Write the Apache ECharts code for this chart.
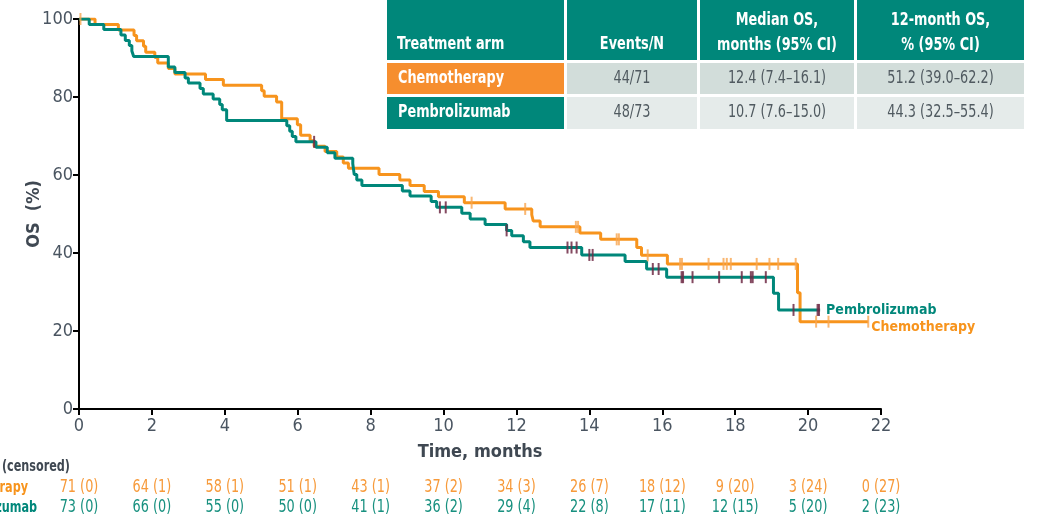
<!DOCTYPE html>
<html>
<head>
<meta charset="utf-8">
<script src="https://cdn.jsdelivr.net/npm/echarts@6/dist/echarts.min.js"></script>
<style>
html,body{margin:0;padding:0;background:#fff;}
#chart{width:1040px;height:518px;}
</style>
</head>
<body>
<div id="chart"></div>
<script>
// ---------------- DATA ----------------
var xTicks = [0, 2, 4, 6, 8, 10, 12, 14, 16, 18, 20, 22];
var yTicks = [0, 20, 40, 60, 80, 100];

// Kaplan–Meier steps: [time (months), OS % after the step]
var chemoCurve = [[0,100],[0.44,98.6],[1.08,97.2],[1.51,95.8],[1.58,94.4],[1.77,93.0],[1.83,91.5],[2.08,90.1],[2.16,88.7],[2.45,87.3],[2.63,85.9],[3.47,84.5],[3.96,83.0],[5.01,81.6],[5.08,80.2],[5.42,78.7],[5.56,74.4],[5.99,72.9],[6.08,70.2],[6.34,68.8],[6.45,67.4],[6.75,66.0],[7.07,64.6],[7.25,63.1],[7.39,61.7],[8.23,60.1],[8.80,58.7],[9.08,57.3],[9.47,55.8],[9.86,54.4],[10.57,52.9],[11.69,51.3],[12.42,49.8],[12.46,48.2],[12.65,46.7],[13.74,45.1],[14.31,43.5],[15.30,41.4],[15.43,39.4],[16.14,37.2],[19.71,29.8],[19.78,22.4],[21.65,22.4]];
var pembroCurve = [[0,100],[0.28,98.6],[0.68,97.3],[1.15,95.9],[1.27,94.5],[1.38,93.2],[1.45,91.8],[1.50,90.4],[2.45,87.7],[2.63,86.3],[2.91,84.9],[3.00,83.6],[3.32,82.2],[3.41,80.8],[3.68,79.5],[3.86,78.1],[3.93,76.7],[4.05,74.0],[5.70,72.6],[5.78,71.2],[5.85,69.9],[5.95,68.5],[6.50,67.1],[6.81,65.7],[7.02,64.3],[7.51,62.9],[7.55,60.1],[7.62,58.7],[7.76,57.3],[8.87,55.9],[9.08,54.6],[9.66,53.2],[9.81,51.7],[10.50,50.2],[10.73,48.7],[11.14,47.3],[11.73,45.8],[11.87,44.4],[12.19,42.9],[12.37,41.4],[13.79,39.5],[14.98,37.8],[15.57,35.9],[16.12,33.8],[19.05,29.7],[19.19,25.4],[20.33,25.4]];

// censoring times (months)
var chemoCensor = [0.04,10.77,12.24,13.63,13.69,14.75,14.81,15.60,16.49,16.54,17.27,17.68,17.77,17.88,18.59,18.94,19.18,19.66,20.22,20.56,21.65];
var pembroCensor = [6.45,9.90,10.06,11.73,13.40,13.51,13.65,14.00,14.09,15.74,15.90,16.53,16.57,16.83,17.56,18.18,18.43,18.48,18.84,19.60,20.26,20.30];

// numbers at risk (censored)
var chemoRisk = ['71 (0)','64 (1)','58 (1)','51 (1)','43 (1)','37 (2)','34 (3)','26 (7)','18 (12)','9 (20)','3 (24)','0 (27)'];
var pembroRisk = ['73 (0)','66 (0)','55 (0)','50 (0)','41 (1)','36 (2)','29 (4)','22 (8)','17 (11)','12 (15)','5 (20)','2 (23)'];

var armNames = ['Chemotherapy', 'Pembrolizumab'];
var riskTitle = 'No. at risk (censored)';

// summary table
var tableHeader = ['Treatment arm', 'Events/N', 'Median OS,\nmonths (95% CI)', '12-month OS,\n% (95% CI)'];
var tableChemo = ['Chemotherapy', '44/71', '12.4 (7.4–16.1)', '51.2 (39.0–62.2)'];
var tablePembro = ['Pembrolizumab', '48/73', '10.7 (7.6–15.0)', '44.3 (32.5–55.4)'];

// ---------------- STYLE ----------------
var FONT = "'Liberation Sans Narrow','Arial Narrow','DejaVu Sans Condensed',sans-serif";
var ORANGE = '#F7941D';
var TEAL = '#00877A';
var MAROON = '#6E2A45';
var GREY_TXT = '#4A5561';
var NARROW = 0.84;

function stepValue(curve, t) {
  var v = curve[0][1];
  for (var i = 0; i < curve.length; i++) { if (curve[i][0] <= t) v = curve[i][1]; }
  return v;
}
function censorPoints(curve, times) {
  return times.map(function (t) { return [t, stepValue(curve, t)]; });
}

var chart = echarts.init(document.getElementById('chart'), null, {renderer: 'canvas'});

var graphics = [];
function txt(x, y, s, fill, weight, size, align, sx) {
  graphics.push({type: 'text', silent: true, x: x, y: y, scaleX: sx || NARROW, style: {
    text: s, x: 0, y: 0, fill: fill,
    font: weight + ' ' + size + 'px ' + FONT,
    align: align, textAlign: align, verticalAlign: 'middle', textVerticalAlign: 'middle', lineHeight: 25
  }});
}

// table
var colL = [387, 567, 700, 857];
var colR = [564, 697, 854, 1024];
var rowT = [0, 63, 97];
var rowB = [60, 94, 129];
for (var c = 0; c < 4; c++) {
  graphics.push({type: 'rect', silent: true, shape: {x: colL[c], y: rowT[0], width: colR[c]-colL[c], height: rowB[0]-rowT[0]}, style: {fill: TEAL}});
  graphics.push({type: 'rect', silent: true, shape: {x: colL[c], y: rowT[1], width: colR[c]-colL[c], height: rowB[1]-rowT[1]}, style: {fill: c === 0 ? '#F68E2E' : '#D2DDDA'}});
  graphics.push({type: 'rect', silent: true, shape: {x: colL[c], y: rowT[2], width: colR[c]-colL[c], height: rowB[2]-rowT[2]}, style: {fill: c === 0 ? TEAL : '#E5EBEA'}});
}
for (var c2 = 0; c2 < 4; c2++) {
  var cx = (colL[c2] + colR[c2]) / 2;
  if (c2 === 0) {
    txt(397, 45, tableHeader[0], '#fff', 'bold', 17, 'left');
    txt(398, 79, tableChemo[0], '#fff', 'bold', 17, 'left');
    txt(398, 113, tablePembro[0], '#fff', 'bold', 17, 'left');
  } else {
    var multi = tableHeader[c2].indexOf('\n') >= 0;
    txt(cx, multi ? 33 : 45, tableHeader[c2], '#fff', 'bold', 17, 'center');
    txt(cx, 79, tableChemo[c2], '#505A60', 'normal', 17, 'center');
    txt(cx, 113, tablePembro[c2], '#505A60', 'normal', 17, 'center');
  }
}
// risk table row titles
txt(70, 467, riskTitle, '#3F4852', 'bold', 16, 'right', 0.78);
txt(28, 488, armNames[0], ORANGE, 'bold', 16, 'right', 0.78);
txt(37, 508, armNames[1], TEAL, 'bold', 16, 'right', 0.78);

var option = {
  animation: false,
  backgroundColor: '#fff',
  grid: {left: 79, right: 159, top: 19, bottom: 109, containLabel: false},
  xAxis: {
    type: 'value', min: 0, max: 22, interval: 2,
    name: 'Time, months', nameLocation: 'middle', nameGap: 34, nameMoveOverlap: false,
    nameTextStyle: {fontSize: 18, fontWeight: 'bold', color: '#3F4852', fontFamily: FONT},
    axisLine: {show: true, onZero: false, lineStyle: {color: '#000', width: 2}},
    axisTick: {show: true, length: 6, lineStyle: {color: '#000', width: 2}},
    axisLabel: {fontSize: 18, color: GREY_TXT, margin: 8, fontFamily: FONT, formatter: function (v) { return String(v); }},
    splitLine: {show: false}
  },
  yAxis: {
    type: 'value', min: 0, max: 100, interval: 20,
    name: 'OS  (%)', nameLocation: 'middle', nameGap: 36, nameRotate: 90, nameMoveOverlap: false,
    nameTextStyle: {fontSize: 18, fontWeight: 'bold', color: '#3F4852', fontFamily: FONT},
    axisLine: {show: true, onZero: false, lineStyle: {color: '#000', width: 2}},
    axisTick: {show: true, length: 6, lineStyle: {color: '#000', width: 2}},
    axisLabel: {fontSize: 18, color: GREY_TXT, margin: 6, fontFamily: FONT},
    splitLine: {show: false}
  },
  graphic: graphics,
  series: [
    {
      name: armNames[0], type: 'line', step: 'end', data: chemoCurve, showSymbol: false, symbol: 'none',
      lineStyle: {color: ORANGE, width: 3}, itemStyle: {color: ORANGE}, z: 3,
      endLabel: {show: true, formatter: armNames[0], color: ORANGE, fontWeight: 'bold', fontSize: 14, fontFamily: FONT, distance: 3, offset: [0, 6]}
    },
    {
      name: armNames[1], type: 'line', step: 'end', data: pembroCurve, showSymbol: false, symbol: 'none',
      lineStyle: {color: TEAL, width: 3}, itemStyle: {color: TEAL}, z: 3,
      endLabel: {show: true, formatter: armNames[1], color: TEAL, fontWeight: 'bold', fontSize: 14, fontFamily: FONT, distance: 6}
    },
    {
      type: 'scatter', data: censorPoints(chemoCurve, chemoCensor), symbol: 'rect', symbolSize: [2, 12],
      itemStyle: {color: '#F8A54F'}, z: 4, silent: true
    },
    {
      type: 'scatter', data: censorPoints(pembroCurve, pembroCensor), symbol: 'rect', symbolSize: [2, 12],
      itemStyle: {color: MAROON, opacity: 0.85}, z: 4, silent: true
    }
  ]
};
chart.setOption(option);

// numbers at risk, placed under the ticks through the x scale
xTicks.forEach(function (t, i) {
  var px = chart.convertToPixel({xAxisIndex: 0}, t);
  txt(px, 488, chemoRisk[i], '#F79A3A', 'normal', 17, 'center');
  txt(px, 508, pembroRisk[i], '#17907F', 'normal', 17, 'center');
});
chart.setOption({graphic: graphics});
</script>
</body>
</html>
